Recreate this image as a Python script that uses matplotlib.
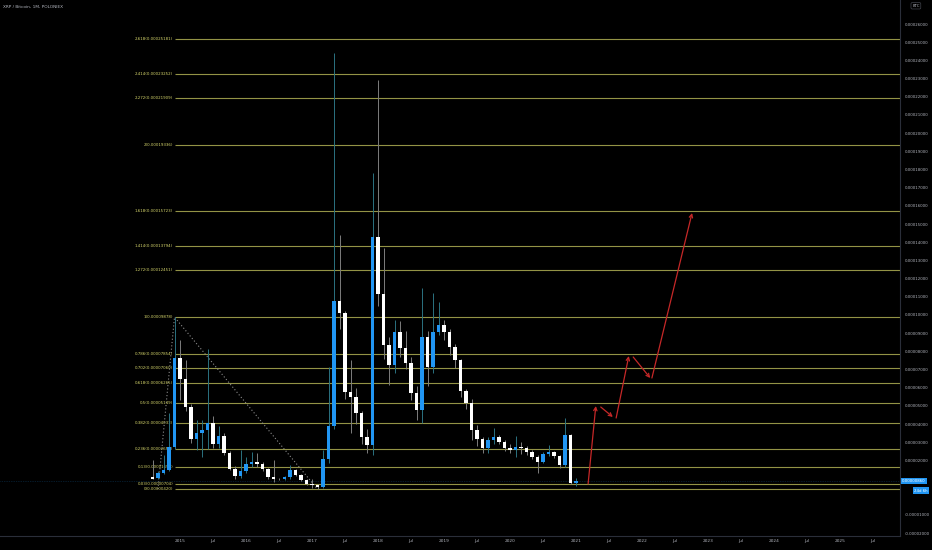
import matplotlib

matplotlib.use("Agg")

import matplotlib.pyplot as plt
import numpy as np
import pandas as pd

# monthly XRP/BTC candles, prices in satoshi (1e-8 BTC)
months = pd.period_range("2014-08", "2021-01", freq="M")
opens = [1085, 1030, 1305, 1470, 2735,
         7630, 6475, 4935, 3175, 3505, 3670, 4055, 2900, 3340, 2405, 1525, 1140,
         1415, 1800, 1910, 1800, 1525, 1085, 975, 950, 1085, 1470, 1195, 920,
         700, 650, 535, 2075, 3890, 10765, 10105, 5760, 5485, 4605, 3285, 2845,
         14285, 11150, 8345, 7245, 9060, 8180, 7355, 5705, 4770, 8785, 7135, 9060,
         9445, 9060, 8235, 7520, 5815, 5155, 3670, 3175, 2680, 3120, 3285, 3010,
         2680, 2570, 2735, 2680, 2460, 2185, 1910, 2350, 2460, 2245, 1745, 3395,
         760]
highs = [2020, 1400, 2295, 4605, 9878,
         8620, 7520, 5100, 4220, 4220, 8125, 4440, 3890, 3500, 2500, 1700, 2570,
         2185, 2460, 2405, 1900, 1600, 2020, 1050, 1150, 1745, 1550, 1250, 950,
         975, 700, 2570, 7135, 24405, 14395, 10200, 7520, 6000, 4700, 3700, 17805,
         22920, 13680, 8800, 9700, 9665, 9115, 7700, 6100, 11480, 9115, 11205, 10710,
         9720, 9200, 8400, 7600, 5900, 5400, 3945, 3300, 3300, 3780, 3400, 3100,
         2900, 3340, 3000, 2800, 2550, 2300, 2450, 2845, 2500, 2300, 4330, 3450,
         1030]
lows = [975, 1000, 1250, 1400, 2600,
        5320, 4700, 2955, 2570, 2185, 2600, 2700, 2700, 2300, 1450, 1000, 1050,
        1300, 1650, 1635, 1400, 1000, 810, 900, 900, 1000, 1150, 880, 650,
        480, 420, 470, 1855, 3700, 9200, 5400, 3505, 4000, 2900, 2400, 2300,
        10500, 7600, 6145, 6800, 7700, 7000, 5300, 4220, 4055, 6090, 6800, 8900,
        8600, 7800, 7100, 5500, 4800, 3120, 2790, 2405, 2405, 2900, 2900, 2500,
        2400, 2200, 2350, 2300, 2100, 1305, 1850, 2250, 2150, 1580, 1650, 700,
        590]
closes = [1000, 1305, 1470, 2735, 7630,
          6475, 4935, 3175, 3505, 3670, 4055, 2900, 3340, 2405, 1525, 1140, 1415,
          1800, 1910, 1800, 1525, 1085, 975, 950, 1085, 1470, 1195, 920, 700,
          650, 535, 2075, 3890, 10765, 10105, 5760, 5485, 4605, 3285, 2845, 14285,
          11150, 8345, 7245, 9060, 8180, 7355, 5705, 4770, 8785, 7135, 9060, 9445,
          9060, 8235, 7520, 5815, 5155, 3670, 3175, 2680, 3120, 3285, 3010, 2680,
          2570, 2735, 2680, 2460, 2185, 1910, 2350, 2460, 2245, 1745, 3395, 760,
          860]

# trend based fib extension: anchors A, B, C
fib_anchor_months = ["2014-09", "2014-12", "2017-02"]
fib_anchor_prices = [420, 9878, 420]
fib_ratios = [0, 0.03, 0.13, 0.236, 0.382, 0.5, 0.618, 0.702, 0.786, 1,
              1.272, 1.414, 1.618, 2, 2.272, 2.414, 2.618]

# projected path drawn as arrows (month index from Jan 2015, satoshi)
arrow_months = [74.2, 75.6, 76.5, 78.7, 79.3, 81.6, 82.4, 85.5, 85.8, 93.1]
arrow_prices = [700, 4990, 4935, 4385, 4330, 7740, 7685, 6530, 6530, 15605]

last_price = 860
countdown = "24d 6h"

SAT = 1e-8
BG = "#000000"
TEXT = "#b2b5be"
UP = "#2196f3"
DOWN = "#ffffff"
FIB = "#939346"
FIB_TEXT = "#d6d66c"


def month_index(period):
    period = pd.Period(period, freq="M")
    return (period.year - 2015) * 12 + period.month - 1


def plot_candles(ax):
    x = np.array([month_index(m) for m in months])
    o = np.array(opens) * SAT
    h = np.array(highs) * SAT
    l = np.array(lows) * SAT
    c = np.array(closes) * SAT
    up = c >= o

    wick_colors = np.where(up, "#2b7280", "#7d7d7d")
    ax.vlines(x, l, h, colors=wick_colors, lw=0.7, zorder=3)

    body_colors = np.where(up, UP, DOWN)
    bottom = np.minimum(o, c)
    height = np.maximum(np.abs(c - o), 40 * SAT)
    ax.bar(x, height, bottom=bottom, width=0.72, color=body_colors,
           linewidth=0, zorder=4)


def plot_fib(ax, xmax):
    a, b, c = fib_anchor_prices
    xs = [month_index(m) for m in fib_anchor_months]
    ax.plot(xs, np.array(fib_anchor_prices) * SAT, color="#8c8c8c",
            lw=0.8, ls=(0, (1, 2)), zorder=2)

    start = xs[1]
    for r in fib_ratios:
        price = c + r * (b - a)
        ax.hlines(price * SAT, start, xmax, colors=FIB, lw=0.8, zorder=1)
        ax.text(start - 0.25, price * SAT, f"{r:g}({price * SAT:.8f})",
                ha="right", va="center", fontsize=2.9, color=FIB_TEXT)


def plot_arrows(ax):
    for i in range(0, len(arrow_months), 2):
        ax.annotate(
            "",
            xy=(arrow_months[i + 1], arrow_prices[i + 1] * SAT),
            xytext=(arrow_months[i], arrow_prices[i] * SAT),
            arrowprops=dict(arrowstyle="->", color="#c62828", lw=0.9,
                            mutation_scale=6, shrinkA=0, shrinkB=0),
            zorder=6,
        )


def main():
    fig = plt.figure(figsize=(9.32, 5.5), dpi=100, facecolor=BG)
    ax = fig.add_axes([0, 14 / 550, 900 / 932, 536 / 550], facecolor=BG)

    xmin, xmax = -180 / 5.5, 720 / 5.5
    ax.set_xlim(xmin, xmax)
    ax.set_ylim(-2160 * SAT, 27320 * SAT)

    plot_fib(ax, xmax)
    plot_candles(ax)
    plot_arrows(ax)

    # last price line
    ax.axhline(last_price * SAT, color=UP, lw=0.5, alpha=0.35, ls=(0, (1, 1.5)),
               zorder=1)

    # price scale; labels hidden behind the scale boxes are left blank
    yticks = [round(k * 1e-5, 8) for k in range(-2, 28)]
    covered = [0.0, 1e-5, 2.7e-4]
    ax.set_yticks(yticks)
    ax.set_yticklabels(["" if v in covered else f"{v:.8f}" for v in yticks])
    ax.yaxis.tick_right()
    ax.tick_params(axis="y", length=0, pad=3.5, labelsize=2.8, labelcolor=TEXT)

    # time scale
    xticks = list(range(0, 127, 6))
    labels = [str(2015 + t // 12) if t % 12 == 0 else "Jul" for t in xticks]
    ax.set_xticks(xticks)
    ax.set_xticklabels(labels)
    ax.tick_params(axis="x", length=0, pad=2.2, labelsize=3.1, labelcolor=TEXT)

    for side in ["top", "left"]:
        ax.spines[side].set_visible(False)
    for side in ["right", "bottom"]:
        ax.spines[side].set_color("#2a2e39")
        ax.spines[side].set_linewidth(0.8)

    ytrans = ax.get_yaxis_transform()
    ax.text(1.0025, last_price * SAT, f"{last_price * SAT:.8f}", transform=ytrans,
            ha="left", va="center", fontsize=2.8, color="white", clip_on=False,
            zorder=10, bbox=dict(fc=UP, ec="none", pad=0.9))
    ax.text(1.031, 330 * SAT, countdown, transform=ytrans, ha="right",
            va="center", fontsize=2.8, color="white", clip_on=False, zorder=10,
            bbox=dict(fc=UP, ec="none", pad=0.9))
    ax.text(1.0135, 27000 * SAT, "BTC", transform=ytrans, ha="left",
            va="center", fontsize=2.8, color=TEXT, clip_on=False, zorder=10,
            bbox=dict(fc=BG, ec="#50535e", lw=0.4, pad=0.8,
                      boxstyle="round,pad=0.3"))

    fig.text(3 / 932, 1 - 7 / 550, "XRP / Bitcoin, 1M, POLONIEX", fontsize=3.1,
             color=TEXT, va="center", ha="left")

    fig.savefig("out.png", dpi=100, facecolor=BG)
    plt.close(fig)


if __name__ == "__main__":
    main()
